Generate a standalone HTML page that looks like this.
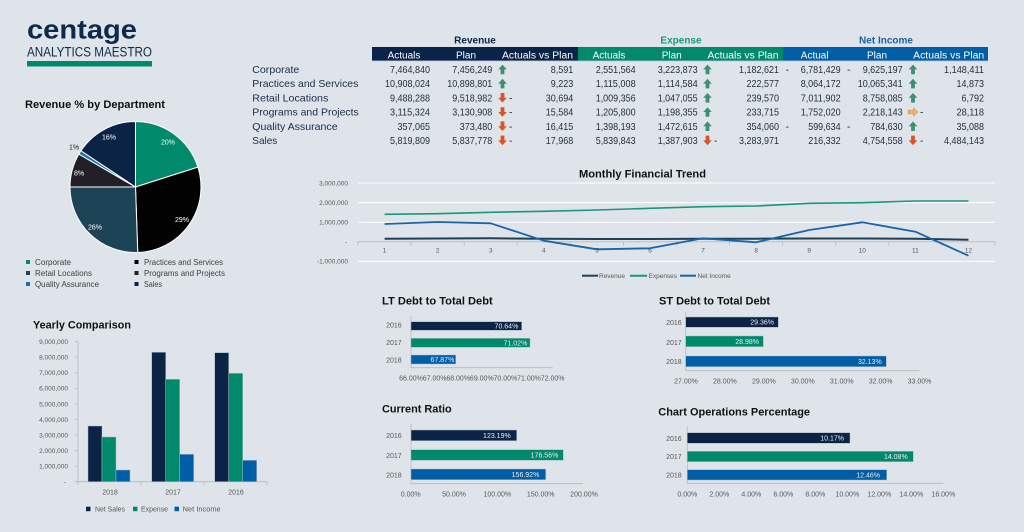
<!DOCTYPE html>
<html><head><meta charset="utf-8"><style>
html,body{margin:0;padding:0;background:#dee4ea;}
svg{display:block;font-family:"Liberation Sans",sans-serif;}
.t{font-size:10.5px;fill:#24303f;}
.rl{font-size:10.5px;fill:#1b2d4a;}
.hd{font-size:10px;fill:#ffffff;text-anchor:middle;}
.ax{font-size:6.5px;fill:#595959;}
.ax7{font-size:7px;fill:#595959;}
.tt{font-size:11px;font-weight:bold;fill:#111;}
.bl{font-size:7px;fill:#e9eef4;text-anchor:end;}
.lg{font-size:8px;fill:#404040;}
</style></head><body>
<svg width="1024" height="532" viewBox="0 0 1024 532" xmlns="http://www.w3.org/2000/svg">
<rect width="1024" height="532" fill="#dee4ea"/>
<defs>
<path id="up" d="M0,-4.8 L4.3,0 L1.9,0 L1.9,4.8 L-1.9,4.8 L-1.9,0 L-4.3,0 Z" fill="#3f8f75"/>
<path id="dn" d="M0,4.8 L4.3,0 L1.9,0 L1.9,-4.8 L-1.9,-4.8 L-1.9,0 L-4.3,0 Z" fill="#d9532b"/>
<path id="rt" d="M5,0 L0.5,-4.3 L0.5,-1.9 L-4.8,-1.9 L-4.8,1.9 L0.5,1.9 L0.5,4.3 Z" fill="#f4b06a" stroke="#d08a40" stroke-width="0.5"/>
</defs>

<!-- Logo -->
<text x="27" y="38.5" font-size="27" font-weight="bold" fill="#0d2a4a" textLength="110" lengthAdjust="spacingAndGlyphs">centage</text>
<text x="27" y="56.7" font-size="13.5" fill="#0d2a4a" textLength="125" lengthAdjust="spacingAndGlyphs">ANALYTICS MAESTRO</text>
<rect x="27" y="61" width="125" height="5.5" fill="#00896b"/>

<!-- Pie -->
<text class="tt" x="25" y="108" textLength="140" lengthAdjust="spacingAndGlyphs">Revenue % by Department</text>
<g stroke="#ffffff" stroke-width="1">
<path d="M135.5,187 L135.5,121.5 A65.5,65.5 0 0 1 197.91,167.12 Z" fill="#00896b"/>
<path d="M135.5,187 L197.91,167.12 A65.5,65.5 0 0 1 137.76,252.46 Z" fill="#020202"/>
<path d="M135.5,187 L137.76,252.46 A65.5,65.5 0 0 1 70.0,186.95 Z" fill="#1c4456"/>
<path d="M135.5,187 L70.0,186.95 A65.5,65.5 0 0 1 78.88,154.08 Z" fill="#221f26"/>
<path d="M135.5,187 L78.88,154.08 A65.5,65.5 0 0 1 80.96,150.73 Z" fill="#1a6fb0"/>
<path d="M135.5,187 L80.96,150.73 A65.5,65.5 0 0 1 135.5,121.5 Z" fill="#0b2446"/>
</g>
<g font-size="7" fill="#ffffff" text-anchor="middle">
<text x="168" y="144.5">20%</text>
<text x="182" y="222">29%</text>
<text x="95" y="229.5">26%</text>
<text x="79" y="175.5">8%</text>
<text x="109" y="139.5">16%</text>
<text x="74" y="149.5" fill="#222">1%</text>
</g>
<rect x="26" y="260" width="4" height="4" fill="#00896b"/>
<rect x="26" y="271" width="4" height="4" fill="#1c4456"/>
<rect x="26" y="282" width="4" height="4" fill="#1a6fb0"/>
<rect x="134.5" y="260" width="4" height="4" fill="#020202"/>
<rect x="134.5" y="271" width="4" height="4" fill="#221f26"/>
<rect x="134.5" y="282" width="4" height="4" fill="#0b2446"/>
<text class="lg" x="35" y="265" textLength="36" lengthAdjust="spacingAndGlyphs">Corporate</text>
<text class="lg" x="35" y="276" textLength="57" lengthAdjust="spacingAndGlyphs">Retail Locations</text>
<text class="lg" x="35" y="287" textLength="64" lengthAdjust="spacingAndGlyphs">Quality Assurance</text>
<text class="lg" x="144" y="265" textLength="79" lengthAdjust="spacingAndGlyphs">Practices and Services</text>
<text class="lg" x="144" y="276" textLength="81" lengthAdjust="spacingAndGlyphs">Programs and Projects</text>
<text class="lg" x="144" y="287" textLength="18" lengthAdjust="spacingAndGlyphs">Sales</text>

<!-- Table -->
<text x="475" y="43.5" font-size="10" font-weight="bold" fill="#0b2446" text-anchor="middle">Revenue</text>
<text x="681" y="43.5" font-size="10" font-weight="bold" fill="#17987a" text-anchor="middle">Expense</text>
<text x="886" y="43.5" font-size="10" font-weight="bold" fill="#1c5fa3" text-anchor="middle">Net Income</text>
<rect x="372" y="47" width="206" height="14" fill="#0a2348"/>
<rect x="578" y="47" width="205" height="14" fill="#00896b"/>
<rect x="783" y="47" width="205" height="14" fill="#005ea6"/>
<rect x="372" y="60.5" width="616" height="0.7" fill="#9fb0c4"/>
<text class="hd" x="404" y="58.5">Actuals</text>
<text class="hd" x="466" y="58.5">Plan</text>
<text class="hd" x="537.5" y="58.5" textLength="71" lengthAdjust="spacingAndGlyphs">Actuals vs Plan</text>
<text class="hd" x="609" y="58.5">Actuals</text>
<text class="hd" x="671.7" y="58.5">Plan</text>
<text class="hd" x="743" y="58.5" textLength="71" lengthAdjust="spacingAndGlyphs">Actuals vs Plan</text>
<text class="hd" x="814.7" y="58.5">Actual</text>
<text class="hd" x="877" y="58.5">Plan</text>
<text class="hd" x="948.7" y="58.5" textLength="71" lengthAdjust="spacingAndGlyphs">Actuals vs Plan</text>

<g class="rl">
<text x="252.3" y="73" textLength="47" lengthAdjust="spacingAndGlyphs">Corporate</text>
<text x="252.3" y="87.2" textLength="106" lengthAdjust="spacingAndGlyphs">Practices and Services</text>
<text x="252.3" y="101.4" textLength="76" lengthAdjust="spacingAndGlyphs">Retail Locations</text>
<text x="252.3" y="115.6" textLength="106.5" lengthAdjust="spacingAndGlyphs">Programs and Projects</text>
<text x="252.3" y="129.8" textLength="85.3" lengthAdjust="spacingAndGlyphs">Quality Assurance</text>
<text x="252.3" y="144" textLength="25" lengthAdjust="spacingAndGlyphs">Sales</text>
</g>

<g class="t" text-anchor="end" lengthAdjust="spacingAndGlyphs">
<!-- Row 1 -->
<text x="430" y="73" textLength="40" lengthAdjust="spacingAndGlyphs">7,464,840</text>
<text x="492.3" y="73" textLength="40" lengthAdjust="spacingAndGlyphs">7,456,249</text>
<text x="573.3" y="73" textLength="22.5" lengthAdjust="spacingAndGlyphs">8,591</text>
<text x="635.7" y="73" textLength="40" lengthAdjust="spacingAndGlyphs">2,551,564</text>
<text x="697.7" y="73" textLength="40" lengthAdjust="spacingAndGlyphs">3,223,873</text>
<text x="779" y="73" textLength="40" lengthAdjust="spacingAndGlyphs">1,182,621</text>
<text x="840.7" y="73" textLength="40" lengthAdjust="spacingAndGlyphs">6,781,429</text>
<text x="902.7" y="73" textLength="40" lengthAdjust="spacingAndGlyphs">9,625,197</text>
<text x="984" y="73" textLength="40" lengthAdjust="spacingAndGlyphs">1,148,411</text>
<!-- Row 2 -->
<text x="430" y="87.2" textLength="45" lengthAdjust="spacingAndGlyphs">10,908,024</text>
<text x="492.3" y="87.2" textLength="45" lengthAdjust="spacingAndGlyphs">10,898,801</text>
<text x="573.3" y="87.2" textLength="22.5" lengthAdjust="spacingAndGlyphs">9,223</text>
<text x="635.7" y="87.2" textLength="40" lengthAdjust="spacingAndGlyphs">1,115,008</text>
<text x="697.7" y="87.2" textLength="40" lengthAdjust="spacingAndGlyphs">1,114,584</text>
<text x="779" y="87.2" textLength="32.5" lengthAdjust="spacingAndGlyphs">222,577</text>
<text x="840.7" y="87.2" textLength="40" lengthAdjust="spacingAndGlyphs">8,064,172</text>
<text x="902.7" y="87.2" textLength="45" lengthAdjust="spacingAndGlyphs">10,065,341</text>
<text x="984" y="87.2" textLength="27.5" lengthAdjust="spacingAndGlyphs">14,873</text>
<!-- Row 3 -->
<text x="430" y="101.4" textLength="40" lengthAdjust="spacingAndGlyphs">9,488,288</text>
<text x="492.3" y="101.4" textLength="40" lengthAdjust="spacingAndGlyphs">9,518,982</text>
<text x="573.3" y="101.4" textLength="27.5" lengthAdjust="spacingAndGlyphs">30,694</text>
<text x="635.7" y="101.4" textLength="40" lengthAdjust="spacingAndGlyphs">1,009,356</text>
<text x="697.7" y="101.4" textLength="40" lengthAdjust="spacingAndGlyphs">1,047,055</text>
<text x="779" y="101.4" textLength="32.5" lengthAdjust="spacingAndGlyphs">239,570</text>
<text x="840.7" y="101.4" textLength="40" lengthAdjust="spacingAndGlyphs">7,011,902</text>
<text x="902.7" y="101.4" textLength="40" lengthAdjust="spacingAndGlyphs">8,758,085</text>
<text x="984" y="101.4" textLength="22.5" lengthAdjust="spacingAndGlyphs">6,792</text>
<!-- Row 4 -->
<text x="430" y="115.6" textLength="40" lengthAdjust="spacingAndGlyphs">3,115,324</text>
<text x="492.3" y="115.6" textLength="40" lengthAdjust="spacingAndGlyphs">3,130,908</text>
<text x="573.3" y="115.6" textLength="27.5" lengthAdjust="spacingAndGlyphs">15,584</text>
<text x="635.7" y="115.6" textLength="40" lengthAdjust="spacingAndGlyphs">1,205,800</text>
<text x="697.7" y="115.6" textLength="40" lengthAdjust="spacingAndGlyphs">1,198,355</text>
<text x="779" y="115.6" textLength="32.5" lengthAdjust="spacingAndGlyphs">233,715</text>
<text x="840.7" y="115.6" textLength="40" lengthAdjust="spacingAndGlyphs">1,752,020</text>
<text x="902.7" y="115.6" textLength="40" lengthAdjust="spacingAndGlyphs">2,218,143</text>
<text x="984" y="115.6" textLength="27.5" lengthAdjust="spacingAndGlyphs">28,118</text>
<!-- Row 5 -->
<text x="430" y="129.8" textLength="32.5" lengthAdjust="spacingAndGlyphs">357,065</text>
<text x="492.3" y="129.8" textLength="32.5" lengthAdjust="spacingAndGlyphs">373,480</text>
<text x="573.3" y="129.8" textLength="27.5" lengthAdjust="spacingAndGlyphs">16,415</text>
<text x="635.7" y="129.8" textLength="40" lengthAdjust="spacingAndGlyphs">1,398,193</text>
<text x="697.7" y="129.8" textLength="40" lengthAdjust="spacingAndGlyphs">1,472,615</text>
<text x="779" y="129.8" textLength="32.5" lengthAdjust="spacingAndGlyphs">354,060</text>
<text x="840.7" y="129.8" textLength="32.5" lengthAdjust="spacingAndGlyphs">599,634</text>
<text x="902.7" y="129.8" textLength="32.5" lengthAdjust="spacingAndGlyphs">784,630</text>
<text x="984" y="129.8" textLength="27.5" lengthAdjust="spacingAndGlyphs">35,088</text>
<!-- Row 6 -->
<text x="430" y="144" textLength="40" lengthAdjust="spacingAndGlyphs">5,819,809</text>
<text x="492.3" y="144" textLength="40" lengthAdjust="spacingAndGlyphs">5,837,778</text>
<text x="573.3" y="144" textLength="27.5" lengthAdjust="spacingAndGlyphs">17,968</text>
<text x="635.7" y="144" textLength="40" lengthAdjust="spacingAndGlyphs">5,839,843</text>
<text x="697.7" y="144" textLength="40" lengthAdjust="spacingAndGlyphs">1,387,903</text>
<text x="779" y="144" textLength="40" lengthAdjust="spacingAndGlyphs">3,283,971</text>
<text x="840.7" y="144" textLength="32.5" lengthAdjust="spacingAndGlyphs">216,332</text>
<text x="902.7" y="144" textLength="40" lengthAdjust="spacingAndGlyphs">4,754,558</text>
<text x="984" y="144" textLength="40" lengthAdjust="spacingAndGlyphs">4,484,143</text>
</g>
<g class="t">
<text x="785.5" y="73">-</text><text x="847" y="73">-</text>
<text x="785.5" y="129.8">-</text><text x="847" y="129.8">-</text>
<text x="509" y="101.4">-</text><text x="509" y="115.6">-</text><text x="509" y="129.8">-</text><text x="509" y="144">-</text>
<text x="714" y="144">-</text>
<text x="920" y="115.6">-</text><text x="920" y="144">-</text>
</g>
<!-- arrows -->
<use href="#up" x="502.5" y="69.4"/><use href="#up" x="502.5" y="83.6"/>
<use href="#dn" x="502.5" y="97.8"/><use href="#dn" x="502.5" y="112"/><use href="#dn" x="502.5" y="126.2"/><use href="#dn" x="502.5" y="140.4"/>
<use href="#up" x="707.5" y="69.4"/><use href="#up" x="707.5" y="83.6"/><use href="#up" x="707.5" y="97.8"/><use href="#up" x="707.5" y="112"/><use href="#up" x="707.5" y="126.2"/>
<use href="#dn" x="707.5" y="140.4"/>
<use href="#up" x="913" y="69.4"/><use href="#up" x="913" y="83.6"/><use href="#up" x="913" y="97.8"/>
<use href="#rt" x="913" y="112"/>
<use href="#up" x="913" y="126.2"/>
<use href="#dn" x="913" y="140.4"/>

<!-- Monthly Financial Trend -->
<text class="tt" x="579" y="177.5" textLength="127" lengthAdjust="spacingAndGlyphs">Monthly Financial Trend</text>
<g stroke="#ffffff" stroke-width="1">
<line x1="358" y1="183" x2="995" y2="183"/>
<line x1="358" y1="202.6" x2="995" y2="202.6"/>
<line x1="358" y1="222.2" x2="995" y2="222.2"/>
<line x1="358" y1="261.4" x2="995" y2="261.4"/>
</g>
<line x1="358" y1="241.8" x2="995" y2="241.8" stroke="#b5b9bd" stroke-width="0.8"/>
<g stroke="#b5b9bd" stroke-width="0.8">
<line x1="358" y1="241.8" x2="358" y2="245.5"/><line x1="411.1" y1="241.8" x2="411.1" y2="245.5"/><line x1="464.2" y1="241.8" x2="464.2" y2="245.5"/><line x1="517.2" y1="241.8" x2="517.2" y2="245.5"/><line x1="570.3" y1="241.8" x2="570.3" y2="245.5"/><line x1="623.4" y1="241.8" x2="623.4" y2="245.5"/><line x1="676.5" y1="241.8" x2="676.5" y2="245.5"/><line x1="729.6" y1="241.8" x2="729.6" y2="245.5"/><line x1="782.7" y1="241.8" x2="782.7" y2="245.5"/><line x1="835.7" y1="241.8" x2="835.7" y2="245.5"/><line x1="888.8" y1="241.8" x2="888.8" y2="245.5"/><line x1="941.9" y1="241.8" x2="941.9" y2="245.5"/><line x1="995" y1="241.8" x2="995" y2="245.5"/>
</g>
<g class="ax" text-anchor="end">
<text x="348" y="185.3">3,000,000</text>
<text x="348" y="204.9">2,000,000</text>
<text x="348" y="224.5">1,000,000</text>
<text x="347" y="244.1">-</text>
<text x="348" y="263.7">-1,000,000</text>
</g>
<g class="ax" text-anchor="middle" font-size="6">
<text x="384.6" y="252.5">1</text><text x="437.7" y="252.5">2</text><text x="490.8" y="252.5">3</text><text x="543.8" y="252.5">4</text><text x="596.9" y="252.5">5</text><text x="650" y="252.5">6</text><text x="703.1" y="252.5">7</text><text x="756.2" y="252.5">8</text><text x="809.2" y="252.5">9</text><text x="862.3" y="252.5">10</text><text x="915.4" y="252.5">11</text><text x="968.5" y="252.5">12</text>
</g>
<polyline fill="none" stroke="#1f3f55" stroke-width="2" points="384.6,238.8 437.7,238.5 490.8,238.3 543.8,238.8 596.9,239 650,239 703.1,238.8 756.2,238.7 809.2,238.5 862.3,238.5 915.4,238.8 968.5,239.7"/>
<polyline fill="none" stroke="#18977a" stroke-width="1.6" points="384.6,214.3 437.7,213.7 490.8,212.3 543.8,211.3 596.9,210 650,208.3 703.1,206.7 756.2,206 809.2,203.3 862.3,202.7 915.4,201 968.5,201"/>
<polyline fill="none" stroke="#1866aa" stroke-width="1.8" stroke-linejoin="round" points="384.6,224 437.7,222 490.8,223.3 543.8,240.7 596.9,249.3 650,248.3 703.1,238.3 756.2,242.3 809.2,230 862.3,222.3 915.4,231.7 968.5,255.7"/>
<line x1="582" y1="275.7" x2="598" y2="275.7" stroke="#1f3f55" stroke-width="2"/>
<line x1="630" y1="275.7" x2="647" y2="275.7" stroke="#18977a" stroke-width="2"/>
<line x1="680" y1="275.7" x2="696" y2="275.7" stroke="#1866aa" stroke-width="2"/>
<g class="ax" font-size="6">
<text x="599" y="277.8">Revenue</text>
<text x="648.5" y="277.8">Expenses</text>
<text x="697.5" y="277.8">Net Income</text>
</g>

<!-- Yearly Comparison -->
<text class="tt" x="33" y="328.5" textLength="98" lengthAdjust="spacingAndGlyphs">Yearly Comparison</text>
<g class="ax" font-size="6.8" text-anchor="end">
<text x="68" y="344.1">9,000,000</text>
<text x="68" y="359.6">8,000,000</text>
<text x="68" y="375.2">7,000,000</text>
<text x="68" y="390.7">6,000,000</text>
<text x="68" y="406.3">5,000,000</text>
<text x="68" y="421.9">4,000,000</text>
<text x="68" y="437.4">3,000,000</text>
<text x="68" y="453">2,000,000</text>
<text x="68" y="468.5">1,000,000</text>
<text x="66" y="484.1">-</text>
</g>
<g stroke="#b5b9bd" stroke-width="0.8">
<line x1="78" y1="341.7" x2="78" y2="481.7"/>
<line x1="75" y1="341.7" x2="78" y2="341.7"/><line x1="75" y1="357.2" x2="78" y2="357.2"/><line x1="75" y1="372.8" x2="78" y2="372.8"/><line x1="75" y1="388.3" x2="78" y2="388.3"/><line x1="75" y1="403.9" x2="78" y2="403.9"/><line x1="75" y1="419.5" x2="78" y2="419.5"/><line x1="75" y1="435" x2="78" y2="435"/><line x1="75" y1="450.6" x2="78" y2="450.6"/><line x1="75" y1="466.1" x2="78" y2="466.1"/>
<line x1="75" y1="481.7" x2="267" y2="481.7"/>
<line x1="78" y1="481.7" x2="78" y2="485"/><line x1="141" y1="481.7" x2="141" y2="485"/><line x1="204" y1="481.7" x2="204" y2="485"/><line x1="267" y1="481.7" x2="267" y2="485"/>
</g>
<g stroke="#aab8c8" stroke-width="0.5">
<rect x="88" y="426" width="14" height="55.7" fill="#0b2446"/>
<rect x="102" y="437" width="14" height="44.7" fill="#00896b"/>
<rect x="116" y="470" width="14" height="11.7" fill="#005ea6"/>
<rect x="151.7" y="352.3" width="14" height="129.4" fill="#0b2446"/>
<rect x="165.7" y="379.3" width="14" height="102.4" fill="#00896b"/>
<rect x="179.7" y="454.3" width="14" height="27.4" fill="#005ea6"/>
<rect x="214.7" y="352.7" width="14" height="129" fill="#0b2446"/>
<rect x="228.7" y="373.3" width="14" height="108.4" fill="#00896b"/>
<rect x="242.7" y="460.3" width="14" height="21.4" fill="#005ea6"/>
</g>
<g class="ax7" text-anchor="middle">
<text x="110" y="494.5">2018</text><text x="173" y="494.5">2017</text><text x="236" y="494.5">2016</text>
</g>
<rect x="86" y="506.7" width="4.5" height="4.5" fill="#0b2446"/>
<rect x="133" y="506.7" width="4.5" height="4.5" fill="#00896b"/>
<rect x="174.5" y="506.7" width="4.5" height="4.5" fill="#005ea6"/>
<g class="ax7" font-size="7.5" fill="#404040">
<text x="95" y="511.6" textLength="30" lengthAdjust="spacingAndGlyphs">Net Sales</text>
<text x="141" y="511.6" textLength="27" lengthAdjust="spacingAndGlyphs">Expense</text>
<text x="182.7" y="511.6" textLength="38" lengthAdjust="spacingAndGlyphs">Net Income</text>
</g>

<!-- LT Debt -->
<text class="tt" x="382" y="304.5" textLength="110.7" lengthAdjust="spacingAndGlyphs">LT Debt to Total Debt</text>
<g class="ax7" text-anchor="end">
<text x="401.7" y="327.5">2016</text><text x="401.7" y="345.2">2017</text><text x="401.7" y="362.5">2018</text>
</g>
<g stroke="#b5b9bd" stroke-width="0.8"><line x1="411" y1="316" x2="411" y2="367.7"/><line x1="411" y1="367.7" x2="552.7" y2="367.7"/></g>
<g stroke="#aab8c8" stroke-width="0.5">
<rect x="411" y="321.7" width="110.7" height="8.6" fill="#0b2446"/>
<rect x="411" y="338.3" width="119" height="9" fill="#00896b"/>
<rect x="411" y="355" width="44.7" height="9" fill="#005ea6"/>
</g>
<text class="bl" x="518.3" y="328.6">70.64%</text>
<text class="bl" x="527.3" y="345.4">71.02%</text>
<text class="bl" x="454.3" y="362">67.87%</text>
<g class="ax7" text-anchor="middle" font-size="6.8">
<text x="411" y="380.7">66.00%</text><text x="434.6" y="380.7">67.00%</text><text x="458.2" y="380.7">68.00%</text><text x="481.8" y="380.7">69.00%</text><text x="505.4" y="380.7">70.00%</text><text x="529" y="380.7">71.00%</text><text x="552.6" y="380.7">72.00%</text>
</g>

<!-- Current Ratio -->
<text class="tt" x="382" y="412.5" textLength="69.7" lengthAdjust="spacingAndGlyphs">Current Ratio</text>
<g class="ax7" text-anchor="end">
<text x="401.7" y="438.2">2016</text><text x="401.7" y="458.2">2017</text><text x="401.7" y="477.5">2018</text>
</g>
<g stroke="#b5b9bd" stroke-width="0.8"><line x1="411" y1="424" x2="411" y2="483.7"/><line x1="411" y1="483.7" x2="583" y2="483.7"/></g>
<g stroke="#aab8c8" stroke-width="0.5">
<rect x="411" y="430" width="105.7" height="10.7" fill="#0b2446"/>
<rect x="411" y="449.7" width="152.3" height="10.6" fill="#00896b"/>
<rect x="411" y="469" width="134.7" height="10.7" fill="#005ea6"/>
</g>
<text class="bl" x="510.7" y="437.9">123.19%</text>
<text class="bl" x="558.3" y="457.5">176.56%</text>
<text class="bl" x="539.3" y="476.9">156.92%</text>
<g class="ax7" text-anchor="middle">
<text x="410.7" y="496.5">0.00%</text><text x="454" y="496.5">50.00%</text><text x="497.3" y="496.5">100.00%</text><text x="540.7" y="496.5">150.00%</text><text x="584" y="496.5">200.00%</text>
</g>

<!-- ST Debt -->
<text class="tt" x="659" y="304.5" textLength="111" lengthAdjust="spacingAndGlyphs">ST Debt to Total Debt</text>
<g class="ax7" text-anchor="end">
<text x="681.7" y="325.2">2016</text><text x="681.7" y="344.8">2017</text><text x="681.7" y="364.2">2018</text>
</g>
<g stroke="#b5b9bd" stroke-width="0.8"><line x1="685.7" y1="312" x2="685.7" y2="370.7"/><line x1="685.7" y1="370.7" x2="919.3" y2="370.7"/></g>
<g stroke="#aab8c8" stroke-width="0.5">
<rect x="685.7" y="317" width="92.6" height="10.3" fill="#0b2446"/>
<rect x="685.7" y="336" width="77.6" height="10.7" fill="#00896b"/>
<rect x="685.7" y="356" width="200.6" height="10.7" fill="#005ea6"/>
</g>
<text class="bl" x="774" y="324.7">29.36%</text>
<text class="bl" x="759" y="343.9">28.98%</text>
<text class="bl" x="881.7" y="363.9">32.13%</text>
<g class="ax7" text-anchor="middle">
<text x="686" y="383.5">27.00%</text><text x="724.9" y="383.5">28.00%</text><text x="763.9" y="383.5">29.00%</text><text x="802.8" y="383.5">30.00%</text><text x="841.7" y="383.5">31.00%</text><text x="880.6" y="383.5">32.00%</text><text x="919.5" y="383.5">33.00%</text>
</g>

<!-- Chart Operations -->
<text class="tt" x="658.3" y="415.7" textLength="151.7" lengthAdjust="spacingAndGlyphs">Chart Operations Percentage</text>
<g class="ax7" text-anchor="end">
<text x="681.7" y="440.8">2016</text><text x="681.7" y="459.2">2017</text><text x="681.7" y="477.5">2018</text>
</g>
<g stroke="#b5b9bd" stroke-width="0.8"><line x1="687.3" y1="426" x2="687.3" y2="483.3"/><line x1="687.3" y1="483.3" x2="943.3" y2="483.3"/></g>
<g stroke="#aab8c8" stroke-width="0.5">
<rect x="687.3" y="432.7" width="162.7" height="10.6" fill="#0b2446"/>
<rect x="687.3" y="451.3" width="226" height="10.4" fill="#00896b"/>
<rect x="687.3" y="469.7" width="199.4" height="10.3" fill="#005ea6"/>
</g>
<text class="bl" x="844" y="440.5">10.17%</text>
<text class="bl" x="907.7" y="459">14.08%</text>
<text class="bl" x="880" y="477.3">12.46%</text>
<g class="ax7" text-anchor="middle">
<text x="687.3" y="496.5">0.00%</text><text x="719.3" y="496.5">2.00%</text><text x="751.3" y="496.5">4.00%</text><text x="783.3" y="496.5">6.00%</text><text x="815.3" y="496.5">8.00%</text><text x="847.3" y="496.5">10.00%</text><text x="879.3" y="496.5">12.00%</text><text x="911.3" y="496.5">14.00%</text><text x="943.3" y="496.5">16.00%</text>
</g>
</svg>
</body></html>
